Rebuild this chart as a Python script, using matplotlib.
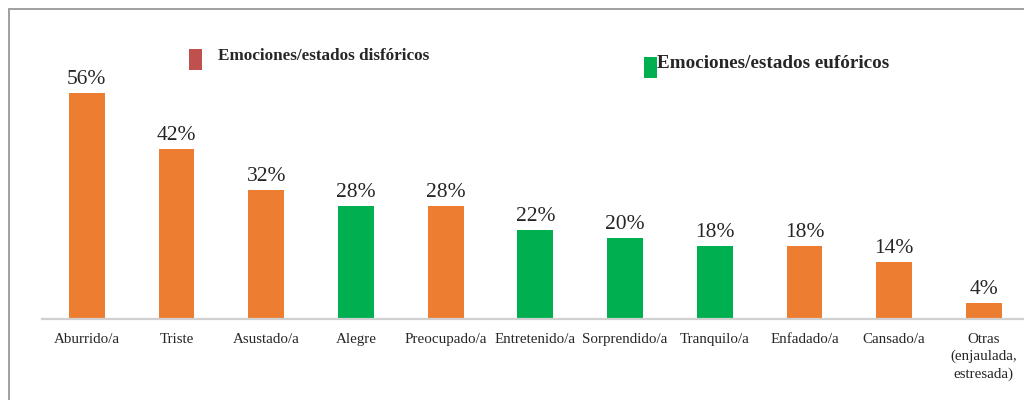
import matplotlib.pyplot as plt
from matplotlib.patches import Rectangle

# datos del grafico
categorias = ['Aburrido/a', 'Triste', 'Asustado/a', 'Alegre', 'Preocupado/a',
              'Entretenido/a', 'Sorprendido/a', 'Tranquilo/a', 'Enfadado/a',
              'Cansado/a', 'Otras\n(enjaulada,\nestresada)']
porcentajes = [56, 42, 32, 28, 28, 22, 20, 18, 18, 14, 4]
tipo = ['dis', 'dis', 'dis', 'eu', 'dis', 'eu', 'eu', 'eu', 'dis', 'dis', 'dis']

naranja = '#ED7D31'
verde = '#00B050'
rojo = '#C0504D'
colores = [naranja if t == 'dis' else verde for t in tipo]

plt.rcParams['font.family'] = ['Liberation Serif', 'DejaVu Serif']

W, H = 1024, 400
fig = plt.figure(figsize=(W / 100, H / 100), dpi=100)

# ejes: base en y=319 px, 4.036 px por punto porcentual
ymax = 70
eje_alto = ymax * 4.036
ax = fig.add_axes([42 / W, (H - 319) / H, 1 - 42 / W, eje_alto / H])
ax.set_facecolor('none')

x = list(range(len(categorias)))
barras = ax.bar(x, porcentajes, width=0.40, color=colores, zorder=2)

for b, v in zip(barras, porcentajes):
    ax.annotate(f'{v}%', (b.get_x() + b.get_width() / 2, v),
                xytext=(0, 3), textcoords='offset points',
                ha='center', va='bottom', fontsize=15.5, color='#262626')

ax.set_xlim(-0.5, -0.5 + (W - 42) / 89.7)
ax.set_ylim(0, ymax)
ax.set_xticks(x)
ax.set_xticklabels(categorias, fontsize=10.8, color='#262626', linespacing=1.38)
ax.tick_params(axis='x', length=0, pad=10)
ax.set_yticks([])
for s in ['top', 'left', 'right']:
    ax.spines[s].set_visible(False)
ax.spines['bottom'].set_color('#d0d0d0')
ax.spines['bottom'].set_linewidth(1.6)

# leyenda manual
fig.add_artist(Rectangle((189 / W, 1 - 70 / H), 13 / W, 21 / H,
                         transform=fig.transFigure, color=rojo, lw=0))
fig.text(218 / W, 1 - 60 / H, 'Emociones/estados disfóricos', fontsize=12.3,
         fontweight='bold', color='#262626', va='baseline')
fig.add_artist(Rectangle((644 / W, 1 - 78 / H), 13 / W, 21 / H,
                         transform=fig.transFigure, color=verde, lw=0))
fig.text(657 / W, 1 - 68 / H, 'Emociones/estados eufóricos', fontsize=13.8,
         fontweight='bold', color='#262626', va='baseline')

# marco del grafico
fig.add_artist(Rectangle((9 / W, -0.1), 1.2, (H - 9) / H + 0.1,
                         transform=fig.transFigure, fill=False,
                         ec='#a0a0a0', lw=1.4))

fig.savefig('out.png', dpi=100)
